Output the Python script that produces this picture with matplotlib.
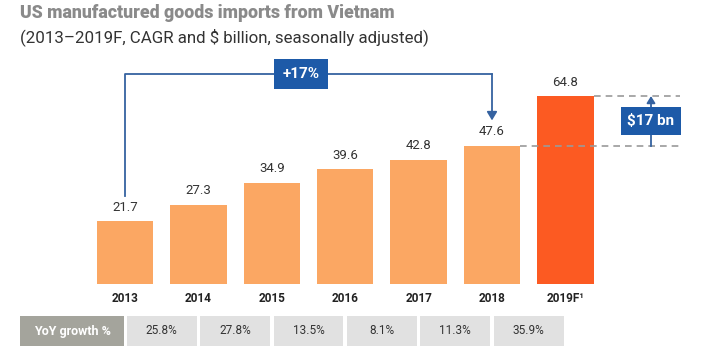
import matplotlib
matplotlib.use("Agg")
import matplotlib.pyplot as plt
from matplotlib.patches import Rectangle

years = ["2013", "2014", "2015", "2016", "2017", "2018", "2019F\u00b9"]
values = [21.7, 27.3, 34.9, 39.6, 42.8, 47.6, 64.8]
growth = ["25.8%", "27.8%", "13.5%", "8.1%", "11.3%", "35.9%"]
cagr_label = "+17%"
diff_label = "$17 bn"

plt.rcParams['font.family'] = ['Roboto', 'DejaVu Sans']

W, H = 709, 362
fig = plt.figure(figsize=(W / 100, H / 100), dpi=100)
base_px = 284
px_per_unit = 2.9
ax = fig.add_axes([0, (H - base_px) / H, 1, base_px / H])
x0_px, step_px = 125, 73.4
ax.set_xlim(-x0_px / step_px, (W - x0_px) / step_px)
ax.set_ylim(0, base_px / px_per_unit)
for s in ax.spines.values():
    s.set_visible(False)
ax.set_yticks([])

light = "#fba763"
dark = "#fc5a22"
blue = "#1d5aa8"
line_blue = "#3562a0"
colors = [light] * 6 + [dark]
xs = list(range(len(values)))
ax.bar(xs, values, width=0.77, color=colors, zorder=2)
ax.set_xticks(xs)
ax.set_xticklabels(years, fontsize=8.5, fontweight='bold', color='#222222')
ax.tick_params(axis='x', length=0, pad=6)

for x, v in zip(xs, values):
    ax.text(x, v + 2.6, f"{v:.1f}", ha='center', va='bottom', fontsize=9.5, color='#333333')

# CAGR bracket
top_y = (base_px - 74) / px_per_unit
ax.plot([0, 0, 5], [values[0] + 4.2 + 4.5, top_y, top_y], color=line_blue, lw=1.3, clip_on=False, zorder=3)
ax.annotate("", xy=(5, values[5] + 8.8), xytext=(5, top_y),
            arrowprops=dict(arrowstyle="-|>,head_length=0.5,head_width=0.3", color=line_blue, lw=1.3,
                            shrinkA=0, shrinkB=0))
ax.text(2.4, top_y, cagr_label, ha='center', va='center', fontsize=11, fontweight='bold', color='white',
        zorder=4, bbox=dict(boxstyle='square,pad=0.55', fc=blue, ec='none'))

# difference markers
xd = (651 - x0_px) / step_px
ax.plot([5.385, (680 - x0_px) / step_px], [values[5]] * 2, ls=(0, (4, 3)), color='#9a9a9a', lw=1.2)
ax.plot([6.385, (680 - x0_px) / step_px], [values[6]] * 2, ls=(0, (4, 3)), color='#9a9a9a', lw=1.2)
mid = (values[5] + values[6]) / 2
ax.plot([xd, xd], [values[5], mid], color=line_blue, lw=1.3)
ax.annotate("", xy=(xd, values[6]), xytext=(xd, mid),
            arrowprops=dict(arrowstyle="-|>,head_length=0.4,head_width=0.25", color=line_blue, lw=1.3,
                            shrinkA=0, shrinkB=0))
ax.text(xd, mid, diff_label, ha='center', va='center', fontsize=11, fontweight='bold', color='white',
        zorder=4, bbox=dict(boxstyle='square,pad=0.45', fc=blue, ec='none'))

# growth table
ty0 = -(346 - base_px) / px_per_unit
th = 30 / px_per_unit
ax.add_patch(Rectangle((-(125 - 20) / step_px, ty0), (124 - 20) / step_px, th, fc='#a4a49c', ec='none',
                       clip_on=False))
ax.text(-(125 - 72) / step_px, ty0 + th / 2, "YoY growth %", ha='center', va='center', fontsize=9,
        fontweight='bold', color='white')
for i, g in enumerate(growth):
    cx = i + 0.5
    ax.add_patch(Rectangle((cx - 0.475, ty0), 0.95, th, fc='#e1e1e1', ec='none', clip_on=False))
    ax.text(cx, ty0 + th / 2, g, ha='center', va='center', fontsize=8.5, color='#333333')

fig.text(20 / W, 1 - 13 / H, "US manufactured goods imports from Vietnam", ha='left', va='center',
         fontsize=12.8, fontweight='heavy', color='#8a8a8a')
fig.text(20 / W, 1 - 37 / H, "(2013\u20132019F, CAGR and $ billion, seasonally adjusted)", ha='left',
         va='center', fontsize=12.2, color='#333333')

fig.savefig("out.png", dpi=100, facecolor='white')
